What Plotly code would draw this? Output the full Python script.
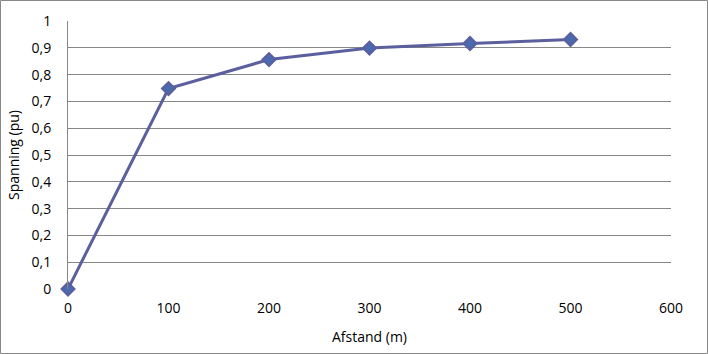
import plotly.graph_objects as go

afstand = [0, 100, 200, 300, 400, 500]
spanning = [0.0, 0.748, 0.856, 0.899, 0.916, 0.931]

L, R, T, B = 68, 37, 21, 65
W, H = 708, 354
pw, ph = W - L - R, H - T - B

fig = go.Figure()
fig.add_trace(go.Scatter(
    x=afstand, y=spanning, mode="lines+markers",
    line=dict(color="#5B5F9E", width=3),
    marker=dict(symbol="diamond", size=10, color="#4A6AB0",
                line=dict(color="#5B5F9E", width=2)),
    cliponaxis=False, showlegend=False))

font = dict(family="Open Sans, Liberation Sans, sans-serif", size=14, color="#000000")

fig.update_layout(
    width=W, height=H,
    margin=dict(l=L, r=R, t=T, b=B, autoexpand=False),
    paper_bgcolor="white", plot_bgcolor="white",
    separators=", ",
    font=font,
    xaxis=dict(range=[0, 600], tickvals=[0, 100, 200, 300, 400, 500, 600],
               showgrid=False, zeroline=False, showline=False, ticks="",
               ticklabelstandoff=9, automargin=False,
               title=dict(text="Afstand (m)", standoff=16, font=font)),
    yaxis=dict(range=[0, 1], dtick=0.1, tickformat=".1~f",
               showgrid=True, gridcolor="#878787", gridwidth=1,
               zeroline=False, showline=True, linecolor="#878787", linewidth=1,
               ticks="", ticklabelstandoff=13, automargin=False,
               title=dict(text="Spanning (pu)", standoff=8, font=font)),
    shapes=[dict(type="rect", xref="paper", yref="paper",
                 x0=(0.5 - L) / pw, x1=(W - 0.5 - L) / pw,
                 y0=-(H - 0.5 - T - ph) / ph, y1=(T - 0.5) / ph + 1,
                 line=dict(color="#878787", width=1), layer="below")],
)

fig.write_html("out.html")
